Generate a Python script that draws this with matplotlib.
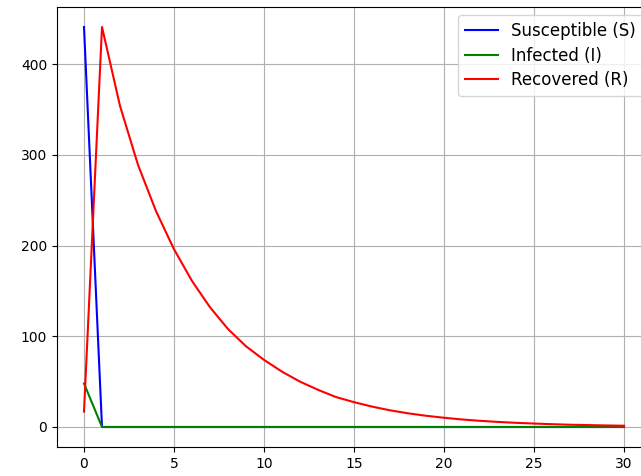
import numpy as np
import matplotlib
matplotlib.use('Agg')
import matplotlib.pyplot as plt

# === DATA ===
days = list(range(31))
susceptible = [441] + [0] * 30
infected = [48] + [0] * 30
recovered = [17, 441, 354, 289, 238, 196, 161, 132, 108, 89, 74,
             61, 50, 41, 33, 27.4, 22.5, 18.4, 15.1, 12.4, 10.2,
             8.3, 6.8, 5.6, 4.6, 3.8, 3.1, 2.5, 2.1, 1.7, 1.4]

# === PLOT ===
fig = plt.figure(figsize=(6.41, 4.76), dpi=100)
ax = fig.add_axes([57 / 641, 1 - 447 / 476, (651 - 57) / 641, (447 - 7) / 476])
ax.plot(days, susceptible, color='blue', label='Susceptible (S)')
ax.plot(days, infected, color='green', label='Infected (I)')
ax.plot(days, recovered, color='red', label='Recovered (R)')
ax.grid(True)
ax.legend(loc='upper right', fontsize=12, labelspacing=0.4)
fig.savefig('out.png', dpi=100)
